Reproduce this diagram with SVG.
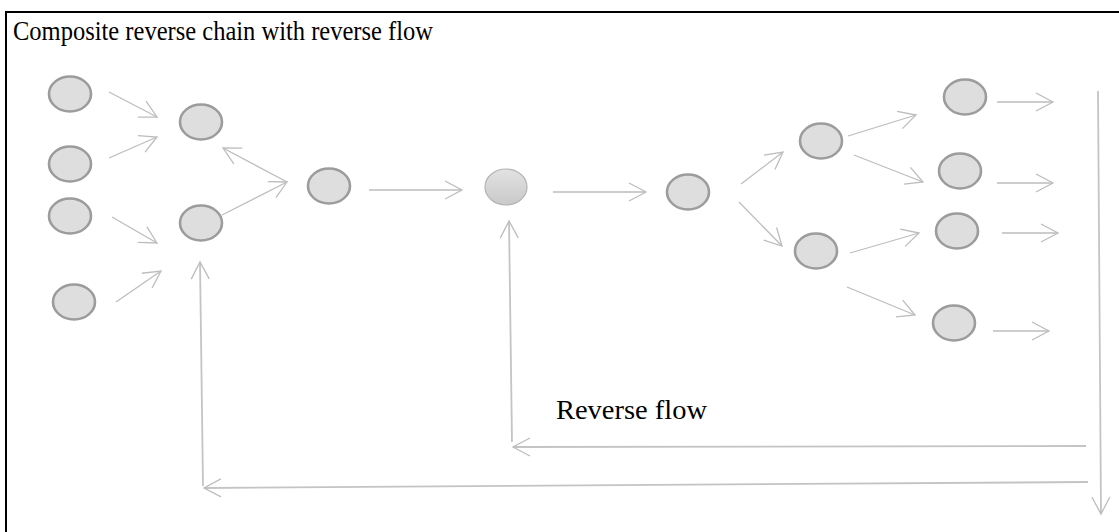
<svg xmlns="http://www.w3.org/2000/svg" width="1119" height="532" viewBox="0 0 1119 532">
  <style>
    .node { fill: #dedede; stroke: #9c9c9c; stroke-width: 2.6; }
    .hub { stroke: #b4b4b4; stroke-width: 1.2; }
    .edge { fill: none; stroke: #bdbdbd; stroke-width: 1.3; marker-end: url(#open); }
    .loop { fill: none; stroke: #c4c4c4; stroke-width: 1.8; }
    .label { font-family: "Liberation Serif", "DejaVu Serif", serif; fill: #000; }
  </style>
  <defs>
    <marker id="open" viewBox="-18 -11 20 22" markerWidth="20" markerHeight="22" refX="0" refY="0" orient="auto" markerUnits="userSpaceOnUse">
      <path d="M-17,-9 L0,0 L-17,9" fill="none" stroke="#bdbdbd" stroke-width="1.3"/>
    </marker>
    <linearGradient id="hubFill" x1="0" y1="0" x2="0" y2="1">
      <stop offset="0" stop-color="#e2e2e2"/>
      <stop offset="1" stop-color="#c9c9c9"/>
    </linearGradient>
  </defs>

  <rect width="1119" height="532" fill="#fff"/>
  <!-- frame -->
  <rect x="6" y="12" width="1130" height="540" fill="none" stroke="#000" stroke-width="2"/>

  <text class="label" x="13" y="40" font-size="27" textLength="420" lengthAdjust="spacingAndGlyphs">Composite reverse chain with reverse flow</text>
  <text class="label" x="556" y="419" font-size="28" textLength="151" lengthAdjust="spacingAndGlyphs">Reverse flow</text>

  <g id="connectors">
    <line class="edge" x1="109" y1="92" x2="157" y2="117"/>
    <line class="edge" x1="109" y1="158" x2="157" y2="137"/>
    <line class="edge" x1="112" y1="217" x2="157" y2="243"/>
    <line class="edge" x1="116" y1="302" x2="161" y2="271"/>
    <line class="edge" x1="287" y1="182" x2="223" y2="148"/>
    <line class="edge" x1="222" y1="215" x2="287" y2="182"/>
    <line class="edge" x1="369" y1="190" x2="462" y2="190"/>
    <line class="edge" x1="553" y1="192" x2="646" y2="192"/>
    <line class="edge" x1="741" y1="184" x2="783" y2="152"/>
    <line class="edge" x1="739" y1="202" x2="782" y2="246"/>
    <line class="edge" x1="848" y1="136" x2="916" y2="115"/>
    <line class="edge" x1="854" y1="155" x2="923" y2="182"/>
    <line class="edge" x1="850" y1="253" x2="919" y2="233"/>
    <line class="edge" x1="847" y1="287" x2="915" y2="315"/>
    <line class="edge" x1="997" y1="102" x2="1053" y2="102"/>
    <line class="edge" x1="997" y1="183" x2="1053" y2="183"/>
    <line class="edge" x1="1002" y1="233" x2="1058" y2="233"/>
    <line class="edge" x1="993" y1="331" x2="1049" y2="331"/>
    <!-- reverse flow loop -->
    <line class="loop edge" x1="1098" y1="91" x2="1101" y2="514"/>
    <line class="loop edge" x1="1086" y1="446" x2="513" y2="447"/>
    <line class="loop edge" x1="512" y1="442" x2="509" y2="221"/>
    <line class="loop edge" x1="1088" y1="482" x2="204" y2="488"/>
    <line class="loop edge" x1="203" y1="486" x2="200" y2="262"/>
  </g>

  <g id="n1"><ellipse class="node" cx="70" cy="94" rx="21" ry="17.5"/></g>
  <g id="n2"><ellipse class="node" cx="70" cy="164" rx="21" ry="17.5"/></g>
  <g id="n3"><ellipse class="node" cx="70" cy="216" rx="21" ry="17.5"/></g>
  <g id="n4"><ellipse class="node" cx="74" cy="302" rx="21" ry="17.5"/></g>
  <g id="n5"><ellipse class="node" cx="201" cy="122" rx="21" ry="17.5"/></g>
  <g id="n6"><ellipse class="node" cx="201" cy="223" rx="21" ry="17.5"/></g>
  <g id="n7"><ellipse class="node" cx="329" cy="186" rx="21" ry="17.5"/></g>
  <g id="n8"><ellipse class="hub" cx="506" cy="187" rx="21" ry="18" fill="url(#hubFill)"/></g>
  <g id="n9"><ellipse class="node" cx="688" cy="192" rx="21" ry="17.5"/></g>
  <g id="n10"><ellipse class="node" cx="821" cy="141" rx="21" ry="17.5"/></g>
  <g id="n11"><ellipse class="node" cx="816" cy="251" rx="21" ry="17.5"/></g>
  <g id="n12"><ellipse class="node" cx="965" cy="97" rx="21" ry="17.5"/></g>
  <g id="n13"><ellipse class="node" cx="960" cy="171" rx="21" ry="17.5"/></g>
  <g id="n14"><ellipse class="node" cx="957" cy="231" rx="21" ry="17.5"/></g>
  <g id="n15"><ellipse class="node" cx="954" cy="323" rx="21" ry="17.5"/></g>
</svg>
